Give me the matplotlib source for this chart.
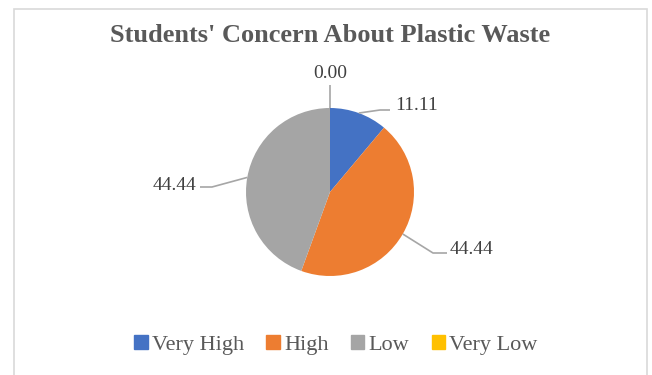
import matplotlib
matplotlib.use("Agg")
import matplotlib.pyplot as plt
import numpy as np
from matplotlib.patches import Rectangle

plt.rcParams["font.family"] = ["Liberation Serif", "DejaVu Serif"]

categories = ["Very High", "High", "Low", "Very Low"]
values = [11.11, 44.44, 44.44, 0.00]
colors = ["#4472C4", "#ED7D31", "#A5A5A5", "#FFC000"]

W, H = 652, 375
CX, CY, R = 330, 192, 84          # pie centre / radius in pixels (from top)


def px(x, y):
    """pixel (from top-left) -> data coords with radius 1."""
    return (x - CX) / R, (CY - y) / R


fig = plt.figure(figsize=(W / 100, H / 100), dpi=100)
ax = fig.add_axes([0, 0, 1, 1])

# chart border
fig.patches.append(Rectangle((14 / W, -0.05), (647 - 14) / W, 1 - 9 / H + 0.05,
                             transform=fig.transFigure, fill=False,
                             edgecolor="#D9D9D9", lw=1.2))

wedges, _ = ax.pie(values, colors=colors, startangle=90, counterclock=False,
                   radius=1, wedgeprops=dict(linewidth=0))
# pie() resets the limits, so set them afterwards
ax.set_xlim(-CX / R, (W - CX) / R)
ax.set_ylim(-(H - CY) / R, CY / R)
ax.set_aspect("equal")
ax.axis("off")

fig.text(330 / W, 1 - 35 / H, "Students' Concern About Plastic Waste",
         ha="center", va="center", fontsize=19, fontweight="bold",
         color="#595959")

# data labels with leader lines: (text pos, anchor, bend point, end point)
label_layout = {
    "Very High": dict(txt=(395, 105), ha="left", bend=(380, 110), end=(390, 110)),
    "High": dict(txt=(450, 250), ha="left", bend=(433, 253), end=(447, 253)),
    "Low": dict(txt=(196, 185), ha="right", bend=(212, 187), end=(200, 187)),
    "Very Low": dict(txt=(330, 73), ha="center", bend=(330, 85), end=(330, 85)),
}
line_col = "#A6A6A6"
for w, cat, val in zip(wedges, categories, values):
    mid = np.deg2rad((w.theta1 + w.theta2) / 2)
    x0, y0 = np.cos(mid), np.sin(mid)
    lay = label_layout[cat]
    bx, by = px(*lay["bend"])
    ex, ey = px(*lay["end"])
    ax.plot([x0, bx, ex], [y0, by, ey], color=line_col, lw=1.2,
            solid_capstyle="butt")
    tx, ty = px(*lay["txt"])
    ax.text(tx, ty, f"{val:.2f}", ha=lay["ha"], va="center",
            fontsize=14, color="#404040")

handles = [Rectangle((0, 0), 1, 1, color=c) for c in colors]
fig.legend(handles, categories, loc="center", ncol=4, frameon=False,
           bbox_to_anchor=(336 / W, 1 - 345 / H), fontsize=16,
           handlelength=0.6, handleheight=0.6, handletextpad=0.2,
           columnspacing=1.0, labelcolor="#595959")

fig.savefig("out.png", dpi=100)
